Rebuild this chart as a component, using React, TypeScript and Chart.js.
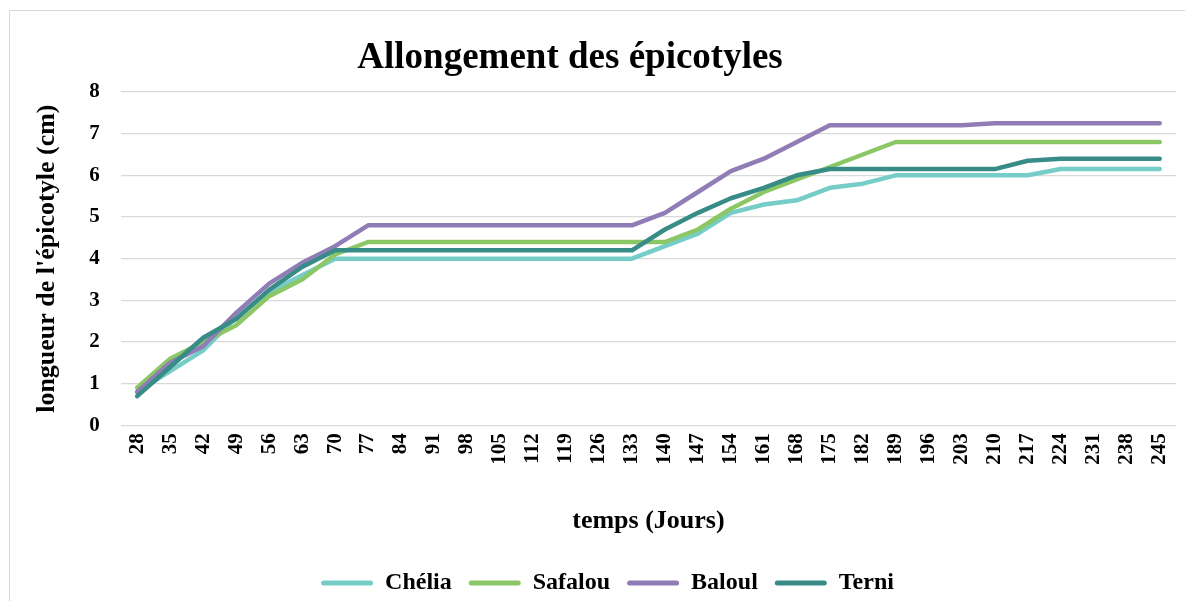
import React, { useEffect, useRef } from "react";
import { Chart, registerables } from "chart.js";

Chart.register(...registerables);

const TITLE = "Allongement des épicotyles";
const X_TITLE = "temps (Jours)";
const Y_TITLE = "longueur de l'épicotyle (cm)";

const days = [
  "28", "35", "42", "49", "56", "63", "70", "77", "84", "91", "98", "105", "112", "119", "126", "133",
  "140", "147", "154", "161", "168", "175", "182", "189", "196", "203", "210", "217", "224", "231", "238", "245",
];

const chelia = [0.8, 1.3, 1.8, 2.6, 3.2, 3.6, 4.0, 4.0, 4.0, 4.0, 4.0, 4.0, 4.0, 4.0, 4.0, 4.0, 4.3, 4.6, 5.1, 5.3, 5.4, 5.7, 5.8, 6.0, 6.0, 6.0, 6.0, 6.0, 6.15, 6.15, 6.15, 6.15];
const safalou = [0.9, 1.6, 2.0, 2.4, 3.1, 3.5, 4.1, 4.4, 4.4, 4.4, 4.4, 4.4, 4.4, 4.4, 4.4, 4.4, 4.4, 4.7, 5.2, 5.6, 5.9, 6.2, 6.5, 6.8, 6.8, 6.8, 6.8, 6.8, 6.8, 6.8, 6.8, 6.8];
const baloul = [0.8, 1.5, 1.9, 2.7, 3.4, 3.9, 4.3, 4.8, 4.8, 4.8, 4.8, 4.8, 4.8, 4.8, 4.8, 4.8, 5.1, 5.6, 6.1, 6.4, 6.8, 7.2, 7.2, 7.2, 7.2, 7.2, 7.25, 7.25, 7.25, 7.25, 7.25, 7.25];
const terni = [0.7, 1.4, 2.1, 2.55, 3.25, 3.8, 4.2, 4.2, 4.2, 4.2, 4.2, 4.2, 4.2, 4.2, 4.2, 4.2, 4.7, 5.1, 5.45, 5.7, 6.0, 6.15, 6.15, 6.15, 6.15, 6.15, 6.15, 6.35, 6.4, 6.4, 6.4, 6.4];

const seriesNames = ["Chélia", "Safalou", "Baloul", "Terni"];
const seriesColors = ["#76CDC8", "#8CC766", "#917DB6", "#388C87"];
const seriesValues = [chelia, safalou, baloul, terni];

const FONT = '"Liberation Serif", "Times New Roman", serif';

const titlePlugin = {
  id: "customTitle",
  afterDraw(chart: any) {
    const ctx = chart.ctx;
    ctx.save();
    ctx.font = `bold 37px ${FONT}`;
    ctx.fillStyle = "#000";
    ctx.textAlign = "center";
    ctx.textBaseline = "alphabetic";
    ctx.fillText(TITLE, chart.width * 0.4743, 60);
    ctx.restore();
  },
};

export default function App() {
  const ref = useRef<HTMLCanvasElement | null>(null);

  useEffect(() => {
    document.body.style.overflow = "hidden";
    const canvas = ref.current;
    if (!canvas) return;
    const chart = new Chart(canvas, {
      type: "line",
      data: {
        labels: days,
        datasets: seriesValues.map((vals, i) => ({
          label: seriesNames[i],
          data: vals,
          borderColor: seriesColors[i],
          backgroundColor: seriesColors[i],
          borderWidth: 4.5,
          pointRadius: 0,
          pointHoverRadius: 0,
          tension: 0,
          borderCapStyle: "round" as const,
          borderJoinStyle: "round" as const,
          order: seriesNames.length - 1 - i,
        })),
      },
      options: {
        responsive: false,
        animation: false,
        layout: { padding: { left: 22, right: 8, top: 84, bottom: 0 } },
        plugins: {
          title: { display: false },
          tooltip: { enabled: false },
          legend: {
            position: "bottom",
            labels: {
              color: "#000",
              font: { family: FONT, size: 24, weight: "bold" },
              boxWidth: 52,
              boxHeight: 5,
              padding: 17,
              useBorderRadius: true,
              borderRadius: 2.5,
              sort: (a: any, b: any) => a.datasetIndex - b.datasetIndex,
              generateLabels: (c: any) =>
                Chart.defaults.plugins.legend.labels
                  .generateLabels(c)
                  .map((it: any) => ({ ...it, lineWidth: 0, borderRadius: 2.5 })),
            },
          },
        },
        scales: {
          x: {
            offset: true,
            grid: { display: false, drawTicks: false },
            border: { display: false },
            ticks: {
              color: "#000",
              font: { family: FONT, size: 21, weight: "bold" },
              minRotation: 90,
              maxRotation: 90,
              autoSkip: false,
              padding: 8,
            },
            title: {
              display: true,
              text: X_TITLE,
              color: "#000",
              font: { family: FONT, size: 26, weight: "bold" },
              padding: { top: 33, bottom: 17 },
            },
          },
          y: {
            min: 0,
            max: 8,
            grid: { color: "#d9d9d9", lineWidth: 1.3, drawTicks: false },
            border: { display: false },
            ticks: {
              stepSize: 1,
              color: "#000",
              font: { family: FONT, size: 21, weight: "bold" },
              padding: 21,
            },
            title: {
              display: true,
              text: Y_TITLE,
              color: "#000",
              font: { family: FONT, size: 26, weight: "bold" },
              padding: { top: 2, bottom: 5 },
            },
          },
        },
      },
      plugins: [titlePlugin],
    });
    return () => chart.destroy();
  }, []);

  return (
    <div style={{ position: "relative", width: 1185, height: 597, overflow: "hidden", background: "#fff" }}>
      <div
        style={{
          position: "absolute",
          left: 1,
          top: 2,
          width: 1400,
          height: 800,
          border: "1px solid #d9d9d9",
          boxSizing: "border-box",
        }}
      />
      <canvas ref={ref} width={1185} height={597} style={{ position: "relative", display: "block" }} />
    </div>
  );
}
